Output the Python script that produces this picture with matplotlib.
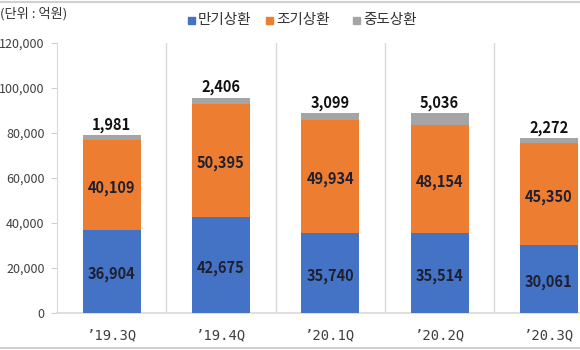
import matplotlib
matplotlib.use("Agg")
import matplotlib.pyplot as plt
from matplotlib.lines import Line2D
from matplotlib.patches import Rectangle

plt.rcParams['font.family'] = ['Noto Sans CJK KR', 'DejaVu Sans']

quarters = ["’19.3Q", "’19.4Q", "’20.1Q", "’20.2Q", "’20.3Q"]
maturity = [36904, 42675, 35740, 35514, 30061]
early = [40109, 50395, 49934, 48154, 45350]
midterm = [1981, 2406, 3099, 5036, 2272]
series_names = ["만기상환", "조기상환", "중도상환"]
colors = ["#4472C4", "#ED7D31", "#A5A5A5"]
yticks = [0, 20000, 40000, 60000, 80000, 100000, 120000]

fig = plt.figure(figsize=(5.8, 3.5), dpi=100)
ax = fig.add_axes([57 / 580, 37 / 350, 546.5 / 580, 270 / 350])

x = list(range(len(quarters)))
w = 0.53
ax.bar(x, maturity, width=w, color=colors[0], zorder=3)
ax.bar(x, early, width=w, bottom=maturity, color=colors[1], zorder=3)
bottoms2 = [a + b for a, b in zip(maturity, early)]
ax.bar(x, midterm, width=w, bottom=bottoms2, color=colors[2], zorder=3)

label_color = "#1F1F2F"
for i in x:
    ax.text(i, maturity[i] / 2 - 1300, f"{maturity[i]:,}", ha="center", va="center",
            fontsize=10.5, fontweight="bold", color=label_color, zorder=4)
    ax.text(i, maturity[i] + early[i] / 2 - 1300, f"{early[i]:,}", ha="center", va="center",
            fontsize=10.5, fontweight="bold", color=label_color, zorder=4)
    total = bottoms2[i] + midterm[i]
    ax.text(i, total + 1200, f"{midterm[i]:,}", ha="center", va="bottom",
            fontsize=10.5, fontweight="bold", color="#111111", zorder=4)

ax.set_xlim(-0.5, len(quarters) - 0.5)
ax.set_ylim(0, 120000)
ax.set_yticks(yticks)
ax.set_yticklabels([f"{v:,}" for v in yticks], fontsize=9, color="#404040")
ax.tick_params(axis="y", length=4, width=0.8, color="#D0D0D0", pad=5)
ax.set_xticks(x)
ax.set_xticklabels(quarters, family="DejaVu Sans Mono", fontsize=10, color="#404040")
ax.tick_params(axis="x", length=0, pad=11)

for s in ["top", "right"]:
    ax.spines[s].set_visible(False)
ax.spines["left"].set_color("#D9D9D9")
ax.spines["bottom"].set_color("#D9D9D9")
ax.spines["bottom"].set_linewidth(1.2)
for b in [i + 0.5 for i in x[:-1]]:
    ax.axvline(b, color="#D9D9D9", lw=1.0, zorder=1)

fig.text(0 / 580, 1 - 14 / 350, "(단위 : 억원)", fontsize=9.5, color="#333333",
         ha="left", va="center")

# legend
legend_items = [(188, series_names[0]), (266, series_names[1]), (353, series_names[2])]
for (px, name), c in zip(legend_items, colors):
    fig.add_artist(Rectangle((px / 580, 1 - 24 / 350), 7 / 580, 7 / 350,
                             transform=fig.transFigure, color=c))
    fig.text((px + 10) / 580, 1 - 20 / 350, name, fontsize=10.5, color="#333333",
             ha="left", va="center")

fig.add_artist(Line2D([0, 1], [1 - 2 / 350, 1 - 2 / 350], transform=fig.transFigure,
                      color="#D0D0D0", lw=1.5))
fig.add_artist(Line2D([0, 1], [2 / 350, 2 / 350], transform=fig.transFigure,
                      color="#D0D0D0", lw=1.5))

fig.savefig("out.png", dpi=100)
